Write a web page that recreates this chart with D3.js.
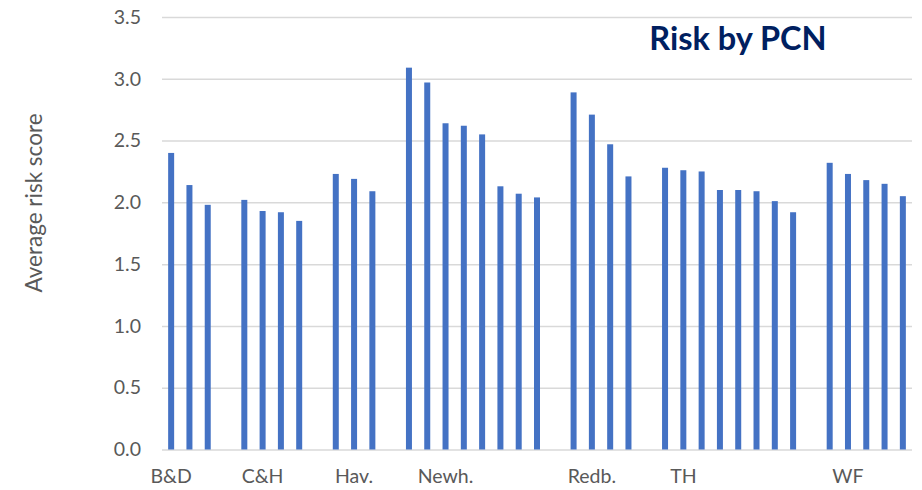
<!DOCTYPE html>
<html>
<head>
<meta charset="utf-8">
<script src="https://cdn.jsdelivr.net/npm/d3@7"></script>
<style>
  html, body { margin: 0; padding: 0; background: #fff; }
  svg { display: block; font-family: Lato, "Open Sans", sans-serif; }
</style>
</head>
<body>
<svg id="chart" width="922" height="490"></svg>
<script>
// Category labels (blank slots are unlabeled practices / group gaps)
const categories = [
  "B&D", "", "", "",
  "", "C&H", "", "", "",
  "", "Hav.", "", "",
  "", "", "Newh.", "", "", "", "", "", "",
  "", "Redb.", "", "", "",
  "", "TH", "", "", "", "", "", "", "",
  "", "WF", "", "", ""
];
// Average risk score per slot (null = empty gap between PCNs)
const values = [
  2.40, 2.14, 1.98, null,
  2.02, 1.93, 1.92, 1.85, null,
  2.23, 2.19, 2.09, null,
  3.09, 2.97, 2.64, 2.62, 2.55, 2.13, 2.07, 2.04, null,
  2.89, 2.71, 2.47, 2.21, null,
  2.28, 2.26, 2.25, 2.10, 2.10, 2.09, 2.01, 1.92, null,
  2.32, 2.23, 2.18, 2.15, 2.05
];
const yTicks = [0, 0.5, 1.0, 1.5, 2.0, 2.5, 3.0, 3.5];
const titleText = "Risk by PCN";
const yAxisTitle = "Average risk score";

(function () {
const svg = d3.select("#chart");
const plotLeft = 162, plotRight = 912, plotTop = 17, plotBottom = 449.5;

const pad = 0.672;
const x = d3.scaleBand()
  .domain(d3.range(categories.length))
  .range([plotLeft, plotRight])
  .paddingInner(pad)
  .paddingOuter(pad / 2);

const y = d3.scaleLinear().domain([0, 3.5]).range([plotBottom, plotTop]);

// gridlines + y tick labels
const yAxis = d3.axisLeft(y).tickValues(yTicks)
  .tickSize(-(plotRight - plotLeft)).tickPadding(21)
  .tickFormat(d3.format(".1f"));
const gy = svg.append("g").attr("transform", `translate(${plotLeft},0)`).call(yAxis);
gy.select(".domain").remove();
gy.selectAll(".tick line").attr("stroke", "#d9d9d9").attr("stroke-width", 1.5);
gy.selectAll(".tick text")
  .attr("fill", "#595959").attr("font-size", 19.5)
  .attr("font-family", "Lato, 'Open Sans', sans-serif");

// bars
const barData = values.map((v, i) => ({ i, v })).filter(d => d.v != null);
svg.append("g").selectAll("rect").data(barData).join("rect")
  .attr("x", d => x(d.i))
  .attr("width", x.bandwidth())
  .attr("y", d => y(d.v))
  .attr("height", d => y(0) - y(d.v))
  .attr("fill", "#4472C4");

// x labels
const xAxis = d3.axisBottom(x).tickSize(0).tickPadding(20)
  .tickFormat(i => categories[i]);
const gx = svg.append("g").attr("transform", `translate(0,${plotBottom})`).call(xAxis);
gx.select(".domain").remove();
gx.selectAll(".tick text")
  .attr("fill", "#595959").attr("font-size", 19.5)
  .attr("font-family", "Lato, 'Open Sans', sans-serif");

// y axis title
svg.append("text")
  .attr("transform", "translate(42,203) rotate(-90)")
  .attr("text-anchor", "middle")
  .attr("fill", "#595959")
  .attr("font-size", 22.5)
  .text(yAxisTitle);

// chart title
svg.append("text")
  .attr("x", 738).attr("y", 50)
  .attr("text-anchor", "middle")
  .attr("fill", "#002060")
  .attr("font-size", 32.5)
  .attr("font-weight", "bold")
  .text(titleText);
})();
</script>
</body>
</html>
